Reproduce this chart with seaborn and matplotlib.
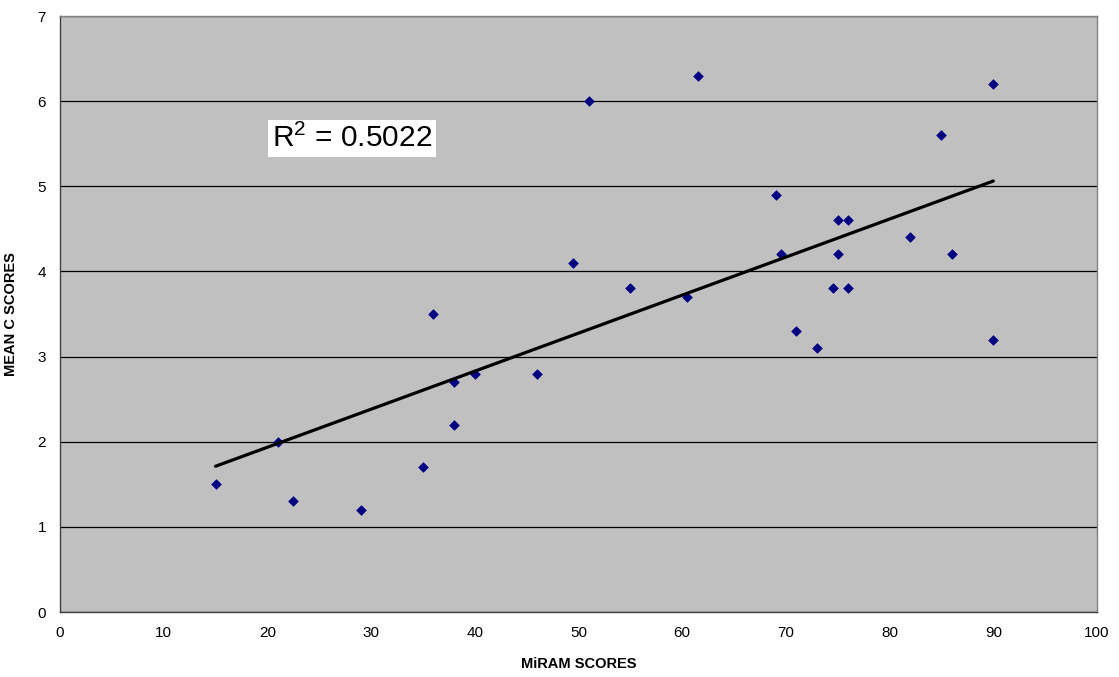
import numpy as np
import pandas as pd
import matplotlib
matplotlib.use("Agg")
import matplotlib.pyplot as plt
import seaborn as sns

miram = [15, 21, 22.5, 29, 35, 36, 38, 38, 40, 46, 49.5, 51, 55, 60.5, 61.5,
         69, 69.5, 71, 73, 74.5, 75, 75, 76, 76, 82, 85, 86, 90, 90]
mean_c = [1.5, 2.0, 1.3, 1.2, 1.7, 3.5, 2.7, 2.2, 2.8, 2.8, 4.1, 6.0, 3.8, 3.7, 6.3,
          4.9, 4.2, 3.3, 3.1, 3.8, 4.6, 4.2, 4.6, 3.8, 4.4, 5.6, 4.2, 6.2, 3.2]
x_ticks = list(range(0, 101, 10))
y_ticks = list(range(0, 8))
r2_label = "R$^2$ = 0.5022"

df = pd.DataFrame({"MiRAM SCORES": miram, "MEAN C SCORES": mean_c})

sns.set_style("white")
plt.rcParams['font.family'] = ['Liberation Sans', 'DejaVu Sans']
plt.rcParams['mathtext.fontset'] = 'custom'
plt.rcParams['mathtext.rm'] = 'Liberation Sans'
plt.rcParams['mathtext.it'] = 'Liberation Sans:italic'
plt.rcParams['mathtext.bf'] = 'Liberation Sans:bold'
plt.rcParams['mathtext.default'] = 'rm'
plt.rcParams['text.color'] = 'black'
plt.rcParams['axes.labelcolor'] = 'black'
plt.rcParams['xtick.labelcolor'] = 'black'
plt.rcParams['ytick.labelcolor'] = 'black'

fig = plt.figure(figsize=(11.19, 6.77), dpi=100)
ax = fig.add_axes([60/1119, 1-612/677, (1097-60)/1119, (612-16)/677])
ax.set_facecolor('#C0C0C0')

sns.regplot(data=df, x="MiRAM SCORES", y="MEAN C SCORES", ax=ax, ci=None,
            marker='D',
            scatter_kws=dict(color='#000080', alpha=1.0, s=24, edgecolor='#000080',
                             linewidths=0.5, zorder=3),
            line_kws=dict(color='black', lw=2.3, zorder=4))

ax.set_xlim(0, 100)
ax.set_ylim(0, 7)
ax.set_xticks(x_ticks)
ax.set_yticks(y_ticks)
ax.yaxis.grid(True, color='black', lw=0.9)
ax.xaxis.grid(False)
ax.set_axisbelow(True)
for s in ax.spines.values():
    s.set_color('#808080')
    s.set_linewidth(1.0)
ax.spines['left'].set_color('#404040')
ax.spines['bottom'].set_color('#404040')
ax.tick_params(axis='both', direction='out', length=4, width=1, color='#404040',
               labelsize=11, pad=6)
ax.set_xlabel("MiRAM SCORES", fontsize=10.5, fontweight='bold', labelpad=12)
ax.set_ylabel("MEAN C SCORES", fontsize=10.5, fontweight='bold', labelpad=14)

ax.text(20.45, 5.56, r2_label, fontsize=21.5, va='center', ha='left', color='black',
        bbox=dict(facecolor='white', edgecolor='none', pad=3))

fig.savefig("out.png", dpi=100)
